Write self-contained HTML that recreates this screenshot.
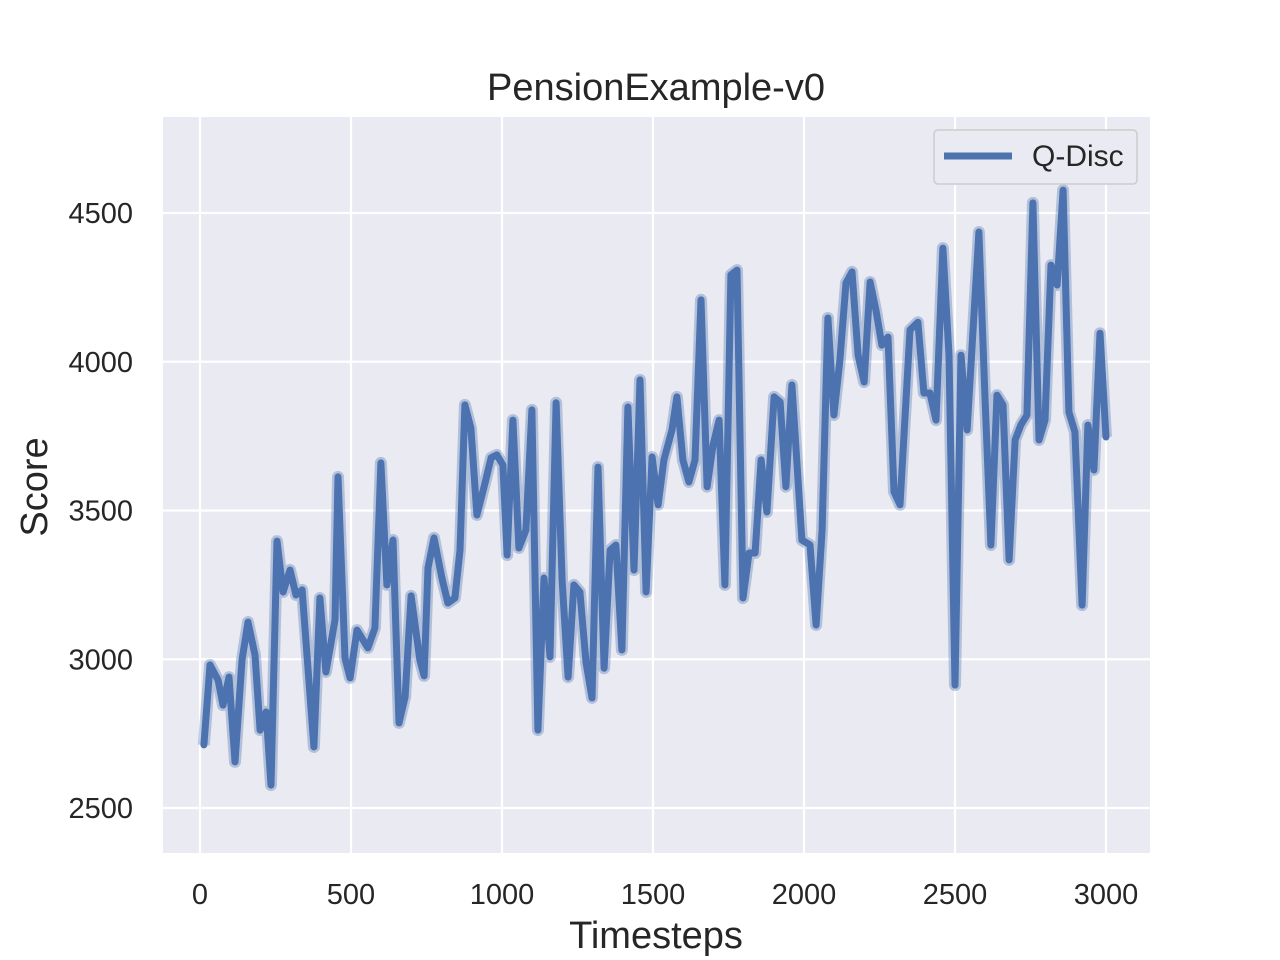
<!DOCTYPE html>
<html><head><meta charset="utf-8"><style>
body{margin:0;background:#fff;}
svg{display:block;font-family:"Liberation Sans",Arial,sans-serif;}
</style></head><body>
<svg id="chart" width="1280" height="960" viewBox="0 0 1280 960">
<rect x="163" y="117" width="987" height="736" fill="#eaeaf2"/>
<g id="grid"></g><g id="ticks"></g><g id="series"></g>
<text x="656" y="100" font-size="38" text-anchor="middle" fill="#262626">PensionExample-v0</text>
<text x="656" y="948" font-size="38" text-anchor="middle" fill="#262626">Timesteps</text>
<text transform="translate(47,487) rotate(-90)" font-size="38" text-anchor="middle" fill="#262626">Score</text>
<g>
<rect x="934" y="130" width="203" height="54" rx="4" fill="#eaeaf2" stroke="#cccccc" stroke-width="1.5"/>
<line x1="944" y1="156" x2="1012" y2="156" stroke="#4c72b0" stroke-width="7"/>
<text x="1032" y="166" font-size="30" fill="#262626">Q-Disc</text>
</g>
</svg>
<script>
const xTicks=[0,500,1000,1500,2000,2500,3000];
const yTicks=[2500,3000,3500,4000,4500];
const timesteps=[13,33,60,76,96,116,139,159,182,199,219,235,255,275,298,318,338,377,397,417,447,457,480,497,520,556,579,599,619,639,659,679,699,728,742,755,775,801,821,844,861,877,897,917,944,964,983,1003,1017,1036,1056,1079,1099,1119,1139,1159,1179,1199,1219,1238,1258,1278,1298,1318,1338,1358,1377,1397,1417,1437,1457,1477,1497,1517,1536,1563,1579,1599,1619,1639,1659,1679,1699,1719,1738,1758,1778,1798,1818,1838,1858,1877,1901,1921,1940,1960,1993,2020,2040,2060,2079,2099,2119,2139,2159,2179,2199,2219,2238,2258,2278,2298,2318,2351,2377,2397,2417,2437,2460,2480,2500,2520,2540,2579,2599,2619,2639,2659,2679,2699,2718,2738,2758,2778,2798,2818,2838,2858,2877,2897,2921,2940,2960,2980,3000];
const scores=[2712,2981,2930,2846,2940,2655,2997,3125,3014,2762,2823,2577,3397,3226,3300,3216,3233,2705,3206,2957,3132,3613,3004,2937,3098,3038,3105,3660,3250,3401,2786,2873,3213,2997,2944,3307,3408,3273,3189,3206,3367,3855,3777,3485,3593,3677,3687,3653,3350,3804,3374,3434,3838,2762,3273,3008,3862,3266,2940,3250,3226,2990,2870,3646,2970,3367,3384,3031,3848,3300,3939,3226,3680,3519,3670,3771,3882,3670,3596,3670,4208,3580,3720,3804,3250,4292,4308,3206,3357,3357,3670,3495,3882,3865,3580,3922,3401,3384,3115,3434,4147,3821,4006,4265,4302,4022,3932,4268,4174,4056,4083,3563,3519,4107,4133,3895,3895,3804,4382,4022,2913,4022,3771,4436,3888,3384,3888,3855,3334,3737,3787,3821,4534,3737,3804,4325,4258,4577,3831,3764,3182,3787,3636,4096,3747];
const X=v=>200+v*0.302;
const Y=v=>213+(4500-v)*0.2975;
const NS="http://www.w3.org/2000/svg";
const grid=document.getElementById('grid'),ticks=document.getElementById('ticks'),series=document.getElementById('series');
xTicks.forEach(t=>{
 const l=document.createElementNS(NS,'line');
 l.setAttribute('x1',X(t));l.setAttribute('x2',X(t));l.setAttribute('y1',117);l.setAttribute('y2',853);
 l.setAttribute('stroke','#fff');l.setAttribute('stroke-width','2.2');
 
 
 grid.appendChild(l);
 const tx=document.createElementNS(NS,'text');
 tx.setAttribute('x',X(t));tx.setAttribute('y',904);tx.setAttribute('font-size','29');tx.setAttribute('text-anchor','middle');tx.setAttribute('fill','#262626');
 tx.textContent=t;
 
 
 ticks.appendChild(tx);
});
yTicks.forEach(t=>{
 const l=document.createElementNS(NS,'line');
 l.setAttribute('x1',163);l.setAttribute('x2',1150);l.setAttribute('y1',Y(t));l.setAttribute('y2',Y(t));
 l.setAttribute('stroke','#fff');l.setAttribute('stroke-width','2.2');
 
 
 grid.appendChild(l);
 const tx=document.createElementNS(NS,'text');
 tx.setAttribute('x',133);tx.setAttribute('y',Y(t)+10);tx.setAttribute('font-size','29');tx.setAttribute('text-anchor','end');tx.setAttribute('fill','#262626');
 tx.textContent=t;
 
 
 ticks.appendChild(tx);
});
const d=timesteps.map((t,i)=>(i?'L':'M')+X(t).toFixed(1)+','+Y(scores[i]).toFixed(1)).join(' ');
const band=document.createElementNS(NS,'path');
band.setAttribute('d',d);band.setAttribute('fill','none');band.setAttribute('stroke','#4c72b0');band.setAttribute('stroke-opacity','0.35');band.setAttribute('stroke-width','12');band.setAttribute('stroke-linejoin','round');


series.appendChild(band);
const p=document.createElementNS(NS,'path');
p.setAttribute('d',d);p.setAttribute('fill','none');p.setAttribute('stroke','#4c72b0');p.setAttribute('stroke-width','7');p.setAttribute('stroke-linejoin','round');p.setAttribute('stroke-linecap','round');


series.appendChild(p);
</script>
</body></html>
